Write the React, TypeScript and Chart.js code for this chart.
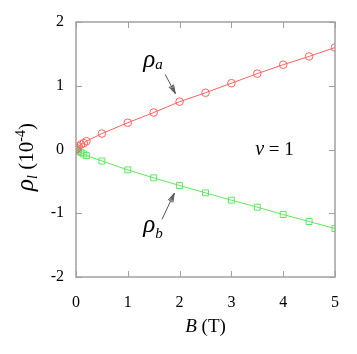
import React, { useEffect, useRef } from "react";
import { Chart, registerables } from "chart.js";

Chart.register(...registerables);

const fieldB = [0, 0.02, 0.05, 0.1, 0.15, 0.2, 0.5, 1, 1.5, 2, 2.5, 3, 3.5, 4, 4.5, 5];
const rhoA = [0, 0.02, 0.05, 0.08, 0.1, 0.13, 0.25, 0.42, 0.58, 0.75, 0.89, 1.04, 1.19, 1.33, 1.46, 1.6];
const rhoB = [0, -0.01, -0.03, -0.05, -0.07, -0.095, -0.18, -0.32, -0.445, -0.565, -0.68, -0.795, -0.905, -1.02, -1.13, -1.24];
const xTicks = [0, 1, 2, 3, 4, 5];
const yTicks = [-2, -1, 0, 1, 2];

const SERIF = "'Liberation Serif', 'DejaVu Serif', serif";
const GREY = "#a0a0a0";

type Run = { t: string; italic?: boolean; size: number; dy?: number };

function runsWidth(ctx: CanvasRenderingContext2D, runs: Run[]) {
  let w = 0;
  for (const r of runs) {
    ctx.font = `${r.italic ? "italic " : ""}${r.size}px ${SERIF}`;
    w += ctx.measureText(r.t).width;
  }
  return w;
}

function drawRuns(ctx: CanvasRenderingContext2D, x: number, y: number, runs: Run[], align: "left" | "center") {
  let cx = align === "center" ? x - runsWidth(ctx, runs) / 2 : x;
  ctx.textAlign = "left";
  ctx.textBaseline = "alphabetic";
  for (const r of runs) {
    ctx.font = `${r.italic ? "italic " : ""}${r.size}px ${SERIF}`;
    ctx.fillText(r.t, cx, y + (r.dy || 0));
    cx += ctx.measureText(r.t).width;
  }
}

function arrow(ctx: CanvasRenderingContext2D, x1: number, y1: number, x2: number, y2: number) {
  ctx.save();
  ctx.strokeStyle = "#555";
  ctx.lineWidth = 1;
  ctx.beginPath();
  ctx.moveTo(x1, y1);
  ctx.lineTo(x2, y2);
  const a = Math.atan2(y2 - y1, x2 - x1);
  const L = 9;
  for (const s of [-0.3, -0.15, 0.15, 0.3]) {
    ctx.moveTo(x2, y2);
    ctx.lineTo(x2 - L * Math.cos(a + s), y2 - L * Math.sin(a + s));
  }
  ctx.stroke();
  ctx.restore();
}

const decor = {
  id: "decor",
  afterDraw(chart: any) {
    const { ctx, chartArea: ca, scales } = chart;
    const xs = scales.x, ys = scales.y;
    ctx.save();
    ctx.strokeStyle = GREY;
    ctx.lineWidth = 1;
    ctx.beginPath();
    const tl = 6;
    for (const v of xTicks) {
      const px = Math.round(xs.getPixelForValue(v)) + 0.5;
      ctx.moveTo(px, ca.bottom);
      ctx.lineTo(px, ca.bottom - tl);
      ctx.moveTo(px, ca.top);
      ctx.lineTo(px, ca.top + tl);
    }
    for (const v of yTicks) {
      const py = Math.round(ys.getPixelForValue(v)) + 0.5;
      ctx.moveTo(ca.left, py);
      ctx.lineTo(ca.left + tl, py);
      ctx.moveTo(ca.right, py);
      ctx.lineTo(ca.right - tl, py);
    }
    ctx.stroke();
    ctx.lineWidth = 1.5;
    ctx.strokeRect(ca.left, ca.top, ca.right - ca.left, ca.bottom - ca.top);

    ctx.fillStyle = "#000";
    drawRuns(ctx, (ca.left + ca.right) / 2, 332, [
      { t: "B", italic: true, size: 19 },
      { t: " (T)", size: 19 },
    ], "center");
    ctx.save();
    ctx.translate(33, 157);
    ctx.rotate(-Math.PI / 2);
    drawRuns(ctx, 0, 0, [
      { t: "\u03c1", italic: true, size: 25 },
      { t: "l", italic: true, size: 14, dy: 4 },
      { t: " (10", size: 21 },
      { t: "-4", size: 14, dy: -8 },
      { t: ")", size: 21 },
    ], "center");
    ctx.restore();

    const P = (x: number, y: number) => [xs.getPixelForValue(x), ys.getPixelForValue(y)];
    let [tx, ty] = P(1.3, 1.3);
    drawRuns(ctx, tx, ty, [
      { t: "\u03c1", italic: true, size: 25 },
      { t: "a", italic: true, size: 15, dy: 2 },
    ], "left");
    [tx, ty] = P(1.3, -1.3);
    drawRuns(ctx, tx, ty, [
      { t: "\u03c1", italic: true, size: 25 },
      { t: "b", italic: true, size: 15, dy: 6 },
    ], "left");
    let [a1, b1] = P(1.72, 1.18);
    let [a2, b2] = P(1.915, 0.88);
    arrow(ctx, a1, b1, a2, b2);
    [a1, b1] = P(1.66, -1.095);
    [a2, b2] = P(1.895, -0.69);
    arrow(ctx, a1, b1, a2, b2);
    [tx, ty] = P(3.46, -0.09);
    drawRuns(ctx, tx, ty, [
      { t: "\u03bd", italic: true, size: 20 },
      { t: " = 1", size: 19 },
    ], "left");
    ctx.restore();
  },
};

export default function App() {
  const ref = useRef<HTMLCanvasElement>(null);
  useEffect(() => {
    const chart = new Chart(ref.current!, {
      type: "scatter",
      data: {
        datasets: [
          {
            data: fieldB.map((x, i) => ({ x, y: rhoA[i] })),
            showLine: true,
            borderColor: "#ff6060",
            borderWidth: 1,
            pointStyle: "circle",
            pointRadius: 3.8,
            pointBackgroundColor: "rgba(255,255,255,0)",
            pointBorderColor: "#ff6060",
            pointBorderWidth: 1,
          },
          {
            data: fieldB.map((x, i) => ({ x, y: rhoB[i] })),
            showLine: true,
            borderColor: "#5ee85e",
            borderWidth: 1,
            pointStyle: "rect",
            pointRadius: 4.2,
            pointBackgroundColor: "rgba(255,255,255,0)",
            pointBorderColor: "#5ee85e",
            pointBorderWidth: 1,
          },
        ],
      },
      options: {
        animation: false,
        responsive: false,
        layout: { padding: { left: 0, top: 22, right: 22, bottom: 0 } },
        plugins: { legend: { display: false }, tooltip: { enabled: false } },
        scales: {
          x: {
            type: "linear",
            min: 0,
            max: 5,
            afterFit: (s: any) => { s.height = 77; },
            afterBuildTicks: (s: any) => { s.ticks = xTicks.map((v) => ({ value: v })); },
            grid: { display: false, drawTicks: false },
            border: { display: false },
            ticks: { color: "#000", padding: 16, font: { family: SERIF, size: 16 } },
          },
          y: {
            type: "linear",
            min: -2,
            max: 2,
            afterFit: (s: any) => { s.width = 76; },
            afterBuildTicks: (s: any) => { s.ticks = yTicks.map((v) => ({ value: v })); },
            grid: { display: false, drawTicks: false },
            border: { display: false },
            ticks: { color: "#000", padding: 12, font: { family: SERIF, size: 16 } },
          },
        },
      },
      plugins: [decor],
    });
    return () => chart.destroy();
  }, []);
  return (
    <div style={{ position: "absolute", left: 0, top: 0, width: 357, height: 354, background: "#fff" }}>
      <canvas ref={ref} width={357} height={354} style={{ display: "block" }} />
    </div>
  );
}
